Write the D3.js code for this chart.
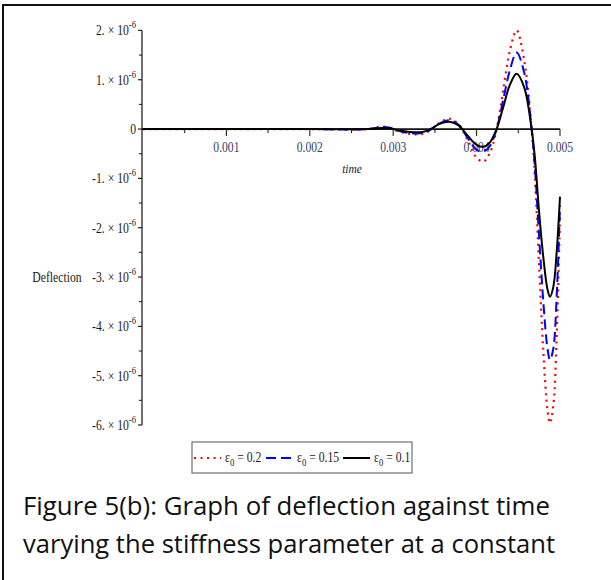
<!DOCTYPE html>
<meta charset="utf-8">
<script src="https://d3js.org/d3.v7.min.js"></script>
<style>
  body { margin: 0; background: #fff; }
</style>
<div id="my_dataviz"></div>
<script>

// time in ms, deflection in units of 1e-6
var times = [0, 1, 2, 2.7, 2.85, 2.95, 3.05, 3.2, 3.35, 3.45, 3.55, 3.67, 3.78, 3.9, 4.0, 4.08, 4.16, 4.24, 4.32, 4.4, 4.48, 4.57, 4.66, 4.7, 4.75, 4.8, 4.85, 4.88, 4.92, 4.96, 5.0];
var eps02  = [0, 0, 0, 0, 0.05, 0.03, -0.04, -0.1, -0.1, -0.02, 0.12, 0.21, 0.1, -0.25, -0.58, -0.66, -0.48, 0, 0.8, 1.6, 2.0, 1.4, 0, -1.0, -2.8, -4.5, -5.7, -5.96, -5.6, -4.2, -1.75];
var eps015 = [0, 0, 0, 0, 0.04, 0.03, -0.03, -0.08, -0.08, -0.01, 0.11, 0.18, 0.09, -0.2, -0.42, -0.46, -0.34, 0, 0.6, 1.2, 1.55, 1.15, 0, -0.8, -2.2, -3.5, -4.45, -4.68, -4.45, -3.4, -1.55];
var eps01  = [0, 0, 0, 0, 0.02, 0.02, -0.02, -0.06, -0.06, 0, 0.1, 0.15, 0.08, -0.15, -0.32, -0.36, -0.27, 0, 0.45, 0.9, 1.12, 0.85, 0, -0.6, -1.7, -2.6, -3.25, -3.4, -3.2, -2.5, -1.37];

var yMajor = [2, 1, 0, -1, -2, -3, -4, -5, -6];
var yMinor = [1.5, 0.5, -0.5, -1.5, -2.5, -3.5, -4.5, -5.5];
var xMajor = [0.001, 0.002, 0.003, 0.004, 0.005];
var xMinor = [0.0005, 0.0015, 0.0025, 0.0035, 0.0045];
var legendLabels = ["0.2", "0.15", "0.1"];

var width = 611, height = 580;

var svg = d3.select("#my_dataviz")
  .append("svg")
  .attr("width", width)
  .attr("height", height)
  .style("font-family", "Liberation Serif");

// outer frame (left + top only visible)
svg.append("line").attr("x1", 3).attr("x2", 3).attr("y1", 4).attr("y2", 580)
  .attr("stroke", "#111").attr("stroke-width", 2);
svg.append("line").attr("x1", 3).attr("x2", 611).attr("y1", 5).attr("y2", 5)
  .attr("stroke", "#111").attr("stroke-width", 2);

var x = d3.scaleLinear().domain([0, 0.005]).range([143, 560]);
var y = d3.scaleLinear().domain([-6e-6, 2e-6]).range([425, 30.4]);

// y axis
svg.append("line").attr("x1", 142).attr("x2", 142).attr("y1", y(2e-6)).attr("y2", y(-6e-6))
  .attr("stroke", "#222").attr("stroke-width", 1.3);
svg.selectAll(".ymaj").data(yMajor).enter().append("line")
  .attr("x1", 138).attr("x2", 142)
  .attr("y1", function(d) { return y(d * 1e-6); })
  .attr("y2", function(d) { return y(d * 1e-6); })
  .attr("stroke", "#222").attr("stroke-width", 1.2);
svg.selectAll(".ymin").data(yMinor).enter().append("line")
  .attr("x1", 139).attr("x2", 142)
  .attr("y1", function(d) { return y(d * 1e-6); })
  .attr("y2", function(d) { return y(d * 1e-6); })
  .attr("stroke", "#222").attr("stroke-width", 1.1);

// y tick labels: "2. x 10^-6"
var ylab = svg.selectAll(".ylab").data(yMajor).enter().append("text")
  .attr("text-anchor", "end")
  .attr("transform", function(d) { return "translate(136," + (y(d * 1e-6) + 5) + ") scale(0.78,1)"; })
  .style("font-size", "15px")
  .style("fill", "#1a1a1a");
ylab.each(function(d) {
  var t = d3.select(this);
  if (d === 0) { t.text("0"); return; }
  t.append("tspan").text(d + ". \u00d7 10");
  t.append("tspan").attr("dy", -7).style("font-size", "11px").text("-6");
});

// x axis
svg.append("line").attr("x1", 142).attr("x2", x(0.005)).attr("y1", y(0)).attr("y2", y(0))
  .attr("stroke", "#111").attr("stroke-width", 1.8);
svg.selectAll(".xmaj").data(xMajor).enter().append("line")
  .attr("x1", function(d) { return x(d); }).attr("x2", function(d) { return x(d); })
  .attr("y1", y(0)).attr("y2", y(0) + 7)
  .attr("stroke", "#222").attr("stroke-width", 1.1);
svg.selectAll(".xmin").data(xMinor).enter().append("line")
  .attr("x1", function(d) { return x(d); }).attr("x2", function(d) { return x(d); })
  .attr("y1", y(0)).attr("y2", y(0) + 4)
  .attr("stroke", "#222").attr("stroke-width", 1.1);
svg.selectAll(".xlab").data(xMajor).enter().append("text")
  .attr("text-anchor", "middle")
  .attr("transform", function(d) { return "translate(" + x(d) + "," + (y(0) + 23) + ") scale(0.8,1)"; })
  .style("font-size", "14.5px")
  .style("fill", "#34416a")
  .text(function(d) { return d3.format(".3f")(d); });

// axis titles
svg.append("text")
  .attr("text-anchor", "middle")
  .attr("transform", "translate(352,173) scale(0.85,1)")
  .style("font-size", "13.5px").style("font-style", "italic").style("fill", "#222")
  .text("time");
svg.append("text")
  .attr("text-anchor", "middle")
  .attr("transform", "translate(57,282) scale(0.78,1)")
  .style("font-size", "15px").style("fill", "#1a1a1a")
  .text("Deflection");

// curves
var series = [
  {vals: eps02, color: "#ff0000", dash: "2,4.5", w: 2.2},
  {vals: eps015, color: "#0000ff", dash: "10,5", w: 2},
  {vals: eps01, color: "#000000", dash: null, w: 2}
];
var line = d3.line()
  .x(function(d) { return x(d[0] * 1e-3); })
  .y(function(d) { return y(d[1] * 1e-6); })
  .curve(d3.curveCatmullRom.alpha(0.5));

series.forEach(function(s) {
  svg.append("path")
    .attr("d", line(times.map(function(t, i) { return [t, s.vals[i]]; })))
    .attr("fill", "none")
    .attr("stroke", s.color)
    .attr("stroke-width", s.w)
    .attr("stroke-dasharray", s.dash);
});

// legend
svg.append("rect").attr("x", 192).attr("y", 442).attr("width", 220).attr("height", 31)
  .attr("fill", "#fff").attr("stroke", "#555").attr("stroke-width", 1);
var legX = [194, 266, 343];
series.forEach(function(s, i) {
  svg.append("line")
    .attr("x1", legX[i]).attr("x2", legX[i] + 27).attr("y1", 458).attr("y2", 458)
    .attr("stroke", s.color).attr("stroke-width", s.w)
    .attr("stroke-dasharray", s.dash);
  var t = svg.append("text")
    .attr("transform", "translate(" + (legX[i] + 31) + ",462) scale(0.78,1)")
    .style("font-size", "15px").style("fill", "#1a1a1a");
  t.append("tspan").text("\u03b5");
  t.append("tspan").attr("dy", 4).style("font-size", "11px").text("0");
  t.append("tspan").attr("dy", -4).text(" = " + legendLabels[i]);
});

// caption
var cap = ["Figure 5(b): Graph of deflection against time",
           "varying the stiffness parameter at a constant"];
var capLen = [527, 532];
cap.forEach(function(c, i) {
  svg.append("text")
    .attr("x", 23).attr("y", 515 + i * 37.5)
    .attr("textLength", capLen[i]).attr("lengthAdjust", "spacingAndGlyphs")
    .style("font-family", "Open Sans, Noto Sans, sans-serif")
    .style("font-size", "25px").style("fill", "#111")
    .text(c);
});

</script>
